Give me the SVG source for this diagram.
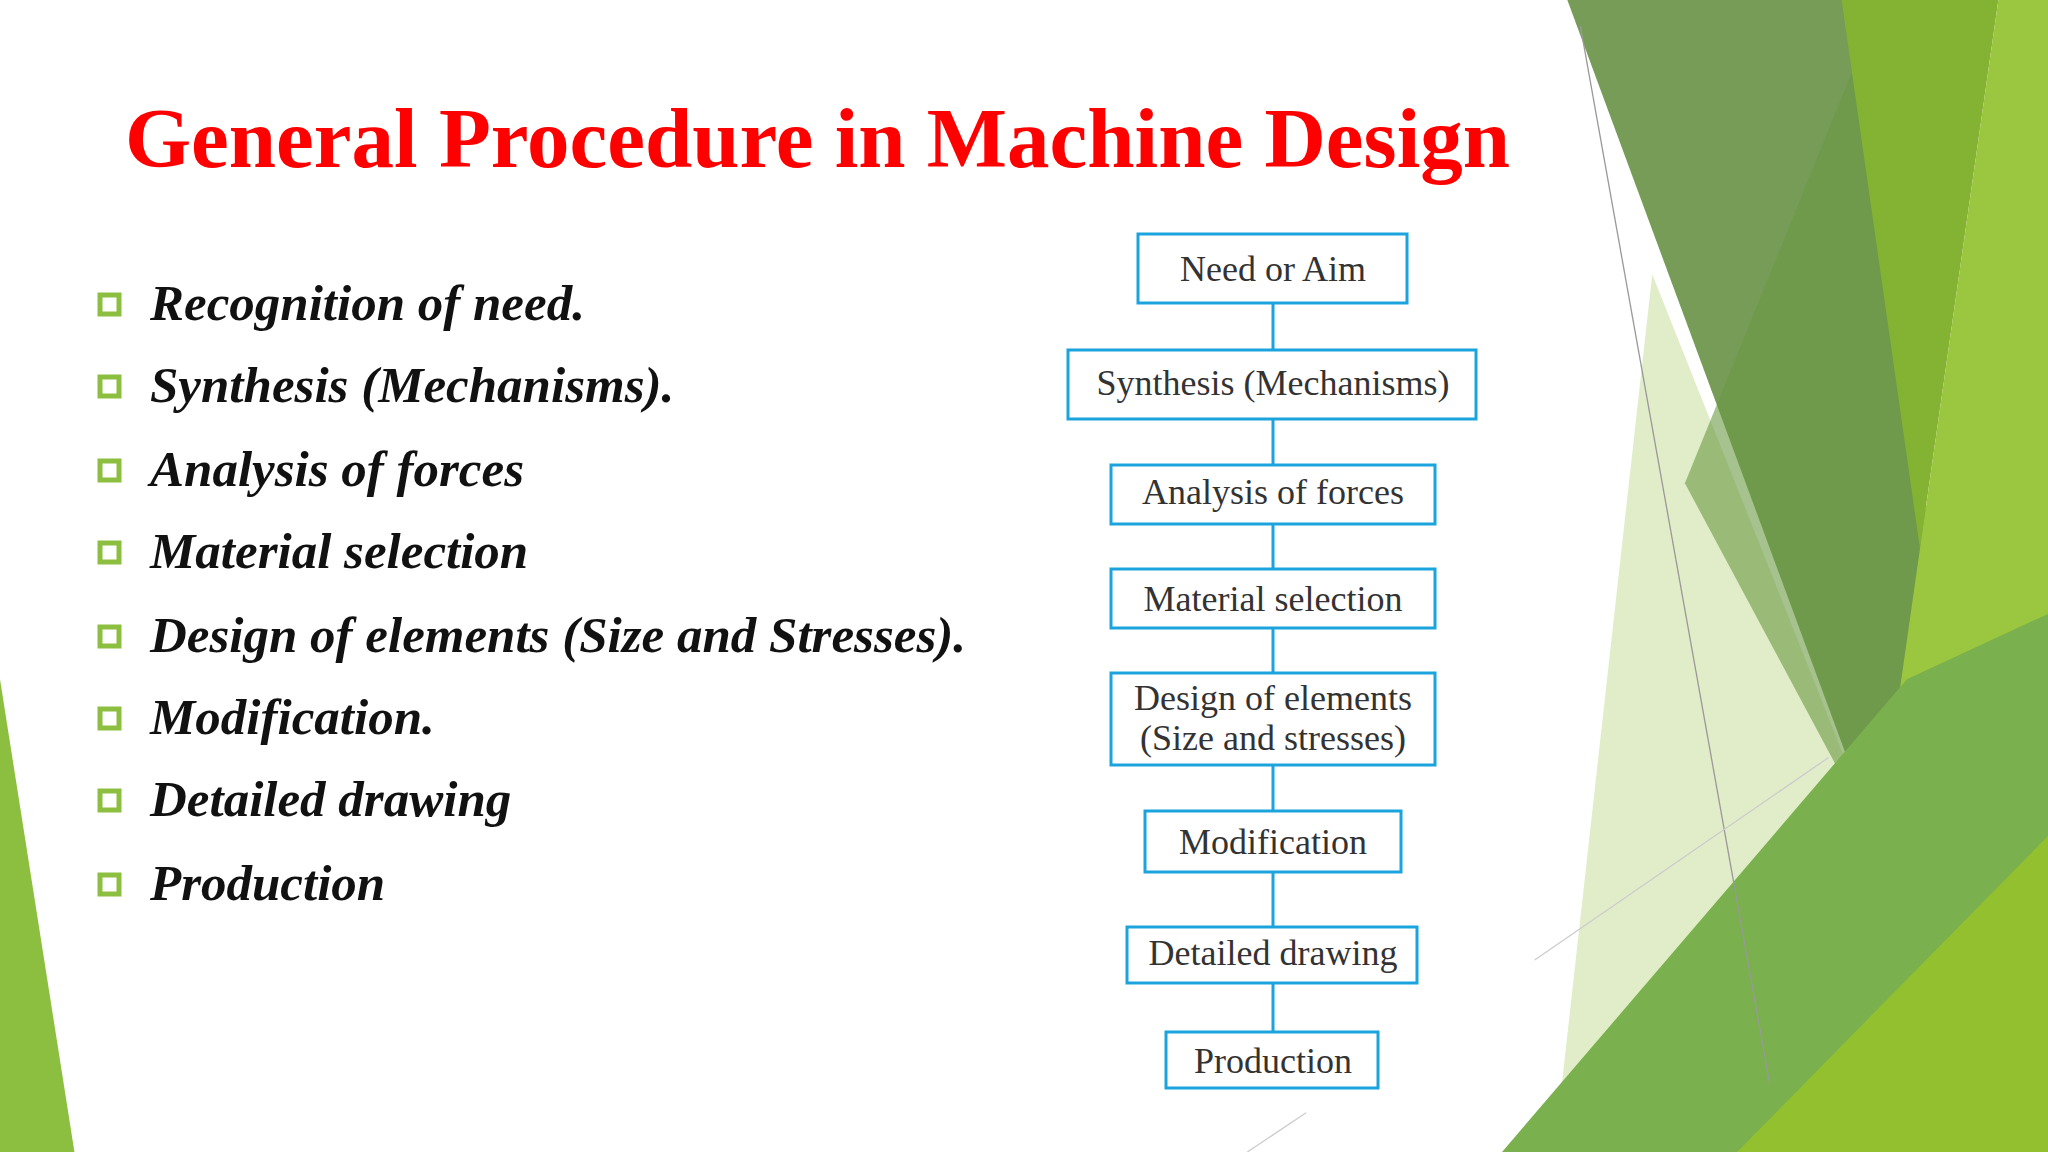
<svg xmlns="http://www.w3.org/2000/svg" width="2048" height="1152" viewBox="0 0 2048 1152">
<style>
.t{font-family:"Liberation Serif",serif;font-weight:bold;font-size:85px;fill:#ff0000}
.b{font-family:"Liberation Serif",serif;font-weight:bold;font-style:italic;font-size:51px;fill:#111}
.bx{fill:#fff;stroke:#1aa3dd;stroke-width:3}
.bt{font-family:"Liberation Serif",serif;font-size:36px;fill:#333;text-anchor:middle}
.sq{fill:#fff;stroke:#8cbf3f;stroke-width:5}
.c{stroke:#1aa3dd;stroke-width:3;fill:none}
</style>
<rect width="2048" height="1152" fill="#fff"/>
<g id="background" transform="scale(1.30612)">
<polygon points="0,520 57,882 0,882" fill="#8cbf3f"/>
<polygon points="1265,210 1440,650 1360,882 1190,882" fill="#d3e5b0" opacity="0.7"/>
<polygon points="1200,0 1420,0 1480,430 1440,650" fill="#779c58"/>
<polygon points="1420,50 1480,430 1440,650 1290,370" fill="#6a9a42" opacity="0.6"/>
<polygon points="1410,0 1530,0 1470,420" fill="#84b334"/>
<polygon points="1530,0 1568,0 1568,540 1430,700 1470,420" fill="#9bc63f"/>
<polygon points="1150,882 1460,520 1568,470 1568,882" fill="#7ab04e"/>
<polygon points="1330,882 1568,640 1568,882" fill="#93c02f"/>
<line x1="1210" y1="20" x2="1355" y2="830" stroke="#999" stroke-width="1"/>
<line x1="1175" y1="735" x2="1400" y2="580" stroke="#ccc" stroke-width="1"/>
<line x1="955" y1="882" x2="1000" y2="852" stroke="#ccc" stroke-width="1"/>
</g>
<text class="t" x="125" y="167">General Procedure in Machine Design</text>
<g id="bullets">
<rect class="sq" x="100" y="295" width="19" height="19"/><text class="b" x="150" y="320">Recognition of need.</text>
<rect class="sq" x="100" y="377" width="19" height="19"/><text class="b" x="150" y="402">Synthesis (Mechanisms).</text>
<rect class="sq" x="100" y="461" width="19" height="19"/><text class="b" x="150" y="486">Analysis of forces</text>
<rect class="sq" x="100" y="543" width="19" height="19"/><text class="b" x="150" y="568">Material selection</text>
<rect class="sq" x="100" y="627" width="19" height="19"/><text class="b" x="150" y="652">Design of elements (Size and Stresses).</text>
<rect class="sq" x="100" y="709" width="19" height="19"/><text class="b" x="150" y="734">Modification.</text>
<rect class="sq" x="100" y="791" width="19" height="19"/><text class="b" x="150" y="816">Detailed drawing</text>
<rect class="sq" x="100" y="875" width="19" height="19"/><text class="b" x="150" y="900">Production</text>
</g>
<g id="connectors">
<line class="c" x1="1273" y1="303" x2="1273" y2="350"/>
<line class="c" x1="1273" y1="419" x2="1273" y2="465"/>
<line class="c" x1="1273" y1="524" x2="1273" y2="569"/>
<line class="c" x1="1273" y1="628" x2="1273" y2="673"/>
<line class="c" x1="1273" y1="765" x2="1273" y2="811"/>
<line class="c" x1="1273" y1="872" x2="1273" y2="927"/>
<line class="c" x1="1273" y1="983" x2="1273" y2="1032"/>
</g>
<g id="n1"><rect class="bx" x="1138" y="234" width="269" height="69"/><text class="bt" x="1273" y="281">Need or Aim</text></g>
<g id="n2"><rect class="bx" x="1068" y="350" width="408" height="69"/><text class="bt" x="1273" y="395">Synthesis (Mechanisms)</text></g>
<g id="n3"><rect class="bx" x="1111" y="465" width="324" height="59"/><text class="bt" x="1273" y="504">Analysis of forces</text></g>
<g id="n4"><rect class="bx" x="1111" y="569" width="324" height="59"/><text class="bt" x="1273" y="611">Material selection</text></g>
<g id="n5"><rect class="bx" x="1111" y="673" width="324" height="92"/><text class="bt" x="1273" y="710">Design of elements</text><text class="bt" x="1273" y="750">(Size and stresses)</text></g>
<g id="n6"><rect class="bx" x="1145" y="811" width="256" height="61"/><text class="bt" x="1273" y="854">Modification</text></g>
<g id="n7"><rect class="bx" x="1127" y="927" width="290" height="56"/><text class="bt" x="1273" y="965">Detailed drawing</text></g>
<g id="n8"><rect class="bx" x="1166" y="1032" width="212" height="56"/><text class="bt" x="1273" y="1073">Production</text></g>
</svg>
